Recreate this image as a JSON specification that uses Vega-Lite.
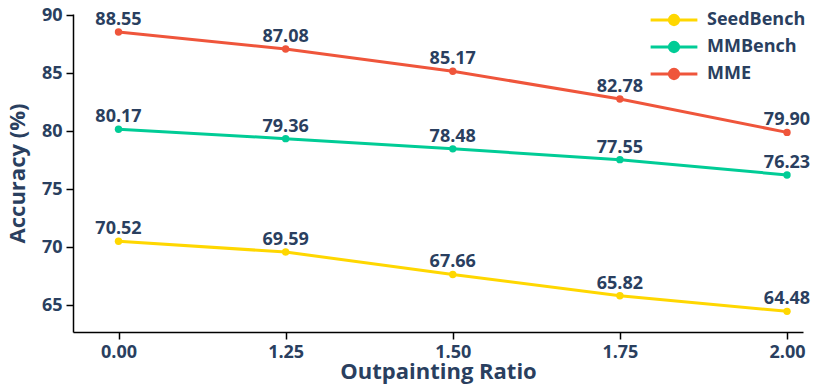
{
  "$schema": "https://vega.github.io/schema/vega-lite/v6.json",
  "width": 730,
  "height": 318,
  "autosize": {"type": "none"},
  "padding": {"left": 73, "top": 14, "right": 27, "bottom": 53},
  "background": "white",
  "config": {
    "view": {"stroke": null},
    "font": "Open Sans",
    "axis": {
      "labelFont": "Open Sans", "labelFontWeight": "bold", "labelFontSize": 18, "labelColor": "#2a3f5f",
      "titleFont": "Open Sans", "titleFontWeight": "bold", "titleFontSize": 22, "titleColor": "#2a3f5f",
      "domain": true, "domainColor": "black", "domainWidth": 1.5, "tickColor": "black", "tickWidth": 1.5, "tickSize": 7,
      "grid": false
    }
  },
  "data": {
    "values": [
      {"ratio": "0.00", "bench": "SeedBench", "acc": 70.52},
      {"ratio": "1.25", "bench": "SeedBench", "acc": 69.59},
      {"ratio": "1.50", "bench": "SeedBench", "acc": 67.66},
      {"ratio": "1.75", "bench": "SeedBench", "acc": 65.82},
      {"ratio": "2.00", "bench": "SeedBench", "acc": 64.48},
      {"ratio": "0.00", "bench": "MMBench", "acc": 80.17},
      {"ratio": "1.25", "bench": "MMBench", "acc": 79.36},
      {"ratio": "1.50", "bench": "MMBench", "acc": 78.48},
      {"ratio": "1.75", "bench": "MMBench", "acc": 77.55},
      {"ratio": "2.00", "bench": "MMBench", "acc": 76.23},
      {"ratio": "0.00", "bench": "MME", "acc": 88.55},
      {"ratio": "1.25", "bench": "MME", "acc": 87.08},
      {"ratio": "1.50", "bench": "MME", "acc": 85.17},
      {"ratio": "1.75", "bench": "MME", "acc": 82.78},
      {"ratio": "2.00", "bench": "MME", "acc": 79.90}
    ]
  },
  "encoding": {
    "x": {
      "field": "ratio", "type": "ordinal",
      "scale": {"type": "point", "padding": 0.184, "align": 0.74},
      "axis": {"title": "Outpainting Ratio", "labelAngle": 0, "labelPadding": 4, "titlePadding": 0}
    },
    "y": {
      "field": "acc", "type": "quantitative",
      "scale": {"domain": [62.7, 90.1], "nice": false, "zero": false},
      "axis": {"title": "Accuracy (%)", "values": [65, 70, 75, 80, 85, 90], "labelPadding": 4, "titlePadding": 12, "domain": true, "domainColor": "black", "domainWidth": 1.5}
    },
    "color": {
      "field": "bench", "type": "nominal",
      "scale": {"domain": ["SeedBench", "MMBench", "MME"], "range": ["#FFD700", "#00CC96", "#EF553B"]},
      "legend": {
        "title": null, "orient": "none", "legendX": 590, "legendY": -5,
        "symbolType": "M-2.5,0H2.5M-0.5,0A0.5,0.5 0 1,0 0.5,0A0.5,0.5 0 1,0 -0.5,0",
        "symbolSize": 350, "symbolStrokeWidth": 3,
        "labelFont": "Open Sans", "labelFontWeight": "bold", "labelFontSize": 18, "labelColor": "#2a3f5f",
        "labelOffset": 22, "rowPadding": 5
      }
    }
  },
  "layer": [
    {"mark": {"type": "line", "strokeWidth": 3}},
    {"mark": {"type": "point", "filled": true, "size": 55, "opacity": 1}},
    {
      "mark": {"type": "text", "baseline": "bottom", "dy": -3, "font": "Open Sans", "fontWeight": "bold", "fontSize": 18, "color": "#2a3f5f"},
      "encoding": {
        "text": {"field": "acc", "type": "quantitative", "format": ".2f"},
        "color": {"value": "#2a3f5f"}
      }
    }
  ]
}
